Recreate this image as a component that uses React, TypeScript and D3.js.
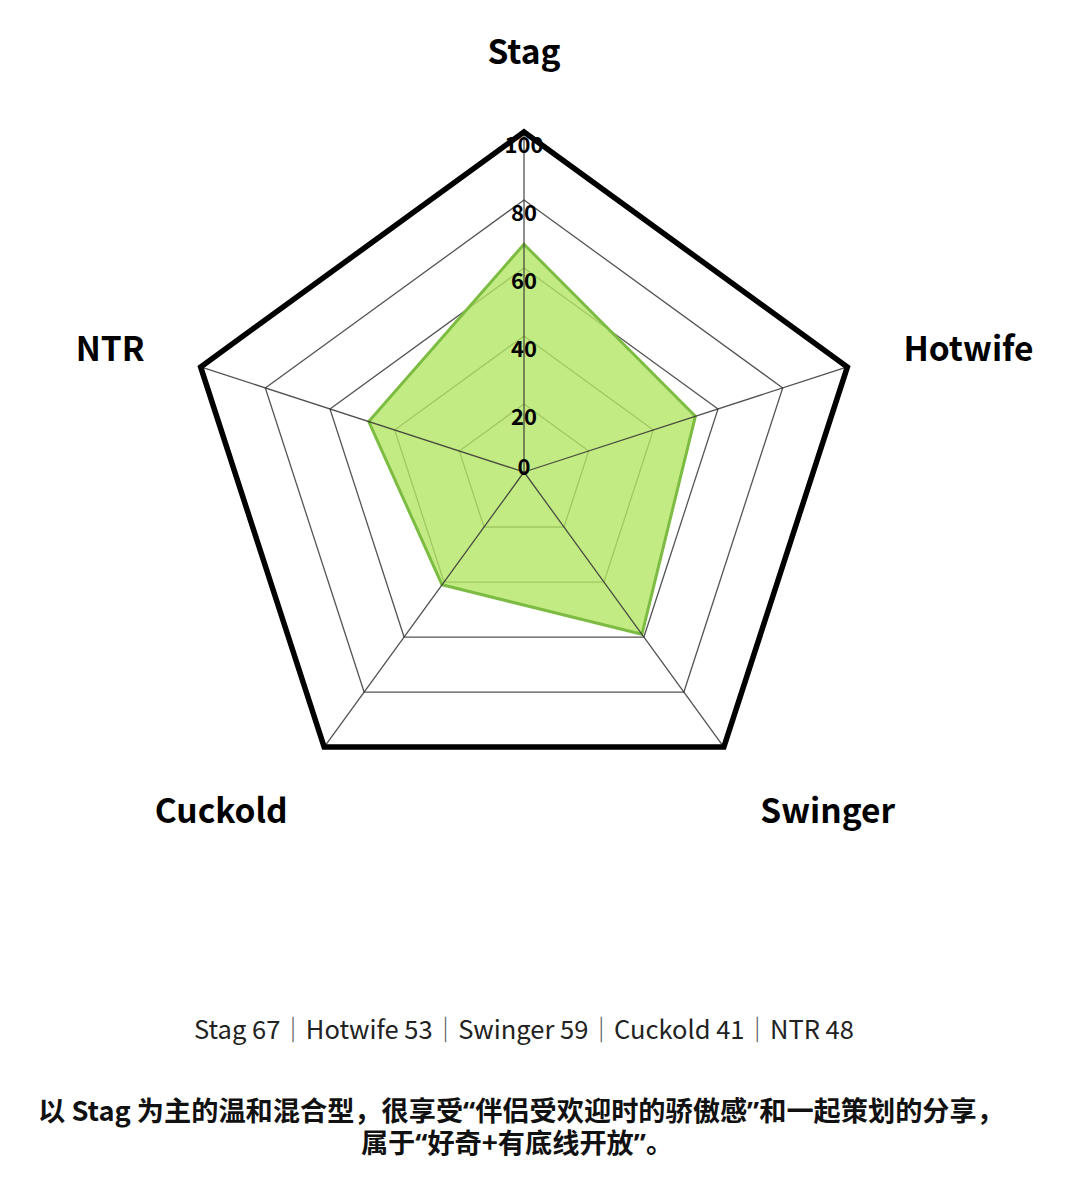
import React from "react";
import * as d3 from "d3";

const categories = ["Stag", "Hotwife", "Swinger", "Cuckold", "NTR"];
const values = [67, 53, 59, 41, 48];
const tickValues = [0, 20, 40, 60, 80, 100];
const descLines = [
  "以 Stag 为主的温和混合型，很享受“伴侣受欢迎时的骄傲感”和一起策划的分享，",
  "属于“好奇+有底线开放”。",
];

const W = 1076;
const H = 1200;
const cx = 524;
const cy = 472;
const R = 340;
const FONT = "'Noto Sans CJK SC', 'Noto Sans', sans-serif";
const LATIN = "'Noto Sans', 'DejaVu Sans', sans-serif";

function renderDesc(t: string) {
  const parts = t.split(/([“”])/);
  return parts.map((p, i) =>
    p === "“" || p === "”" ? (
      <tspan key={i} fontFamily={LATIN}>
        {p}
      </tspan>
    ) : (
      <tspan key={i}>{p}</tspan>
    )
  );
}

export default function App() {
  const n = categories.length;
  const angle = d3
    .scaleLinear()
    .domain([0, n])
    .range([0, 2 * Math.PI]);
  const r = d3.scaleLinear().domain([0, 100]).range([0, R]);
  const pt = (i: number, v: number): [number, number] => {
    const a = angle(i) - Math.PI / 2;
    return [cx + r(v) * Math.cos(a), cy + r(v) * Math.sin(a)];
  };
  const closed = d3.line().curve(d3.curveLinearClosed);
  const ringPath = (v: number) => closed(categories.map((_, i) => pt(i, v))) || "";
  const dataPath = closed(values.map((v, i) => pt(i, v))) || "";

  const labelPos = categories.map((c, i) => {
    const a = angle(i) - Math.PI / 2;
    const cos = Math.cos(a);
    const sin = Math.sin(a);
    const side = Math.abs(sin) < 0.5;
    const bottom = sin > 0.5;
    const labelR = side ? 399 : bottom ? 402 : 405;
    const x = cx + labelR * cos;
    const y = cy + labelR * sin;
    let anchor = "middle";
    if (cos > 0.1) anchor = "start";
    else if (cos < -0.1) anchor = "end";
    let dy = 12;
    if (sin < -0.9) dy = -3;
    else if (bottom) dy = 26;
    return { c, x, y: y + dy, anchor };
  });

  return (
    <svg width={W} height={H} style={{ display: "block", marginTop: -8, marginLeft: -8 }}>
      <rect width={W} height={H} fill="#fff" />
      {tickValues
        .filter((v) => v > 0 && v < 100)
        .map((v) => (
          <path key={v} d={ringPath(v)} fill="none" stroke="#555" strokeWidth={1.3} />
        ))}
      <path
        d={dataPath}
        fill="rgb(180,230,100)"
        fillOpacity={0.8}
        stroke="rgb(125,188,66)"
        strokeWidth={3}
        strokeLinejoin="round"
      />
      {categories.map((c, i) => {
        const [x, y] = pt(i, 100);
        return <line key={c} x1={cx} y1={cy} x2={x} y2={y} stroke="#333" strokeOpacity={0.85} strokeWidth={1.3} />;
      })}
      <path d={ringPath(100)} fill="none" stroke="#000" strokeWidth={5.5} strokeLinejoin="miter" />
      {tickValues.map((v) => (
        <text
          key={v}
          x={cx}
          y={v === 0 ? cy - 7 : cy - r(v) + 11}
          textAnchor="middle"
          dominantBaseline="central"
          fontFamily={FONT}
          fontWeight={700}
          fontSize={22}
          fill="#000"
        >
          {v}
        </text>
      ))}
      {labelPos.map((l) => (
        <text
          key={l.c}
          x={l.x}
          y={l.y}
          textAnchor={l.anchor}
          fontFamily={FONT}
          fontWeight={700}
          fontSize={33.5}
          fill="#000"
        >
          {l.c}
        </text>
      ))}
      <text x={cx} y={1039} textAnchor="middle" fontFamily={FONT} fontSize={25.5} fill="#222">
        {categories.map((c, i) => (
          <React.Fragment key={c}>
            {i > 0 && <tspan fill="#555">｜</tspan>}
            <tspan>{`${c} ${values[i]}`}</tspan>
          </React.Fragment>
        ))}
      </text>
      {descLines.map((t, i) => (
        <text
          key={i}
          x={i === 0 ? 521 : 517}
          y={1121 + i * 32}
          textAnchor="middle"
          fontFamily={FONT}
          fontWeight={700}
          fontSize={27.2}
          fill="#111"
        >
          {renderDesc(t)}
        </text>
      ))}
    </svg>
  );
}
